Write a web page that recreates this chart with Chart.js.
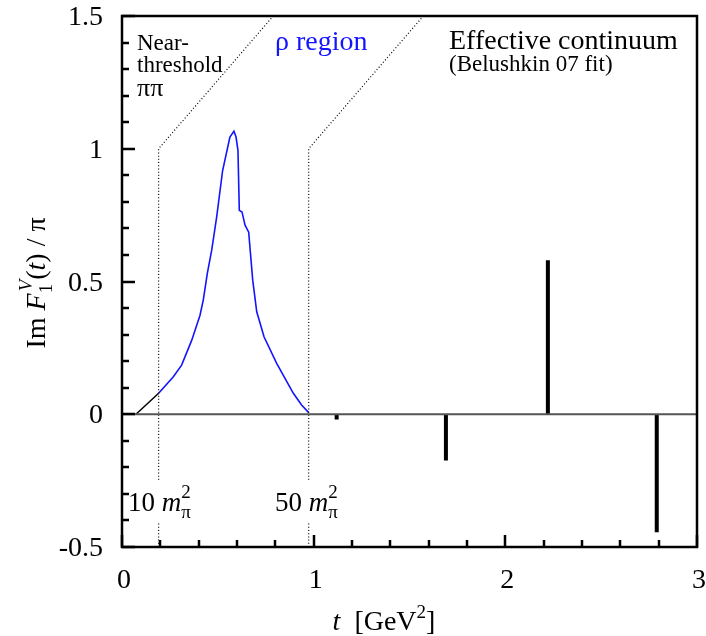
<!DOCTYPE html>
<html>
<head>
<meta charset="utf-8">
<script src="https://cdn.jsdelivr.net/npm/chart.js@4.4.0/dist/chart.umd.min.js"></script>
<style>
  html, body { margin: 0; padding: 0; background: #fff; }
  #wrap { width: 706px; height: 636px; }
</style>
</head>
<body>
<div id="wrap"><canvas id="chart" width="706" height="636"></canvas></div>
<script>
// values: t in GeV^2, Im F1V(t)/pi
const thresholdT = [0.073, 0.191];
const thresholdV = [0.0, 0.079];

const rhoT = [0.191, 0.268, 0.311, 0.364, 0.407, 0.424, 0.445, 0.468, 0.494, 0.525, 0.563, 0.584, 0.595,
              0.605, 0.612, 0.626, 0.642, 0.661, 0.682, 0.703, 0.741, 0.807, 0.894, 0.937, 0.974];
const rhoV = [0.079, 0.141, 0.185, 0.279, 0.373, 0.430, 0.530, 0.618, 0.743, 0.918, 1.044, 1.066, 1.044,
              0.994, 0.768, 0.762, 0.712, 0.686, 0.505, 0.386, 0.292, 0.192, 0.079, 0.035, 0.006];

// effective continuum poles (delta functions)
const contT = [1.12, 1.69, 2.222, 2.79];
const contV = [-0.02, -0.174, 0.58, -0.444];

// region boundaries: 10 m_pi^2 and 50 m_pi^2, dotted up to 1 then slanted to the top
const boundT    = [0.191, 0.974];
const boundTopT = [0.789, 1.572];
const boundKnee = 1.0;
const labelGap  = [-0.409, -0.247];   // dotted line is broken around the m_pi^2 labels

const xTickVals   = [0, 1, 2, 3];
const xTickLabels = ['0', '1', '2', '3'];
const yTickVals   = [-0.5, 0, 0.5, 1, 1.5];
const yTickLabels = ['-0.5', '0', '0.5', '1', '1.5'];

const SERIF = '"Liberation Serif", "DejaVu Serif", serif';
const BLUE = '#1414ff';

const pts = (xs, ys) => xs.map((x, i) => ({ x, y: ys[i] }));

const datasets = [];

// zero line
datasets.push({ data: [{ x: 0, y: 0 }, { x: 3, y: 0 }], borderColor: '#555', borderWidth: 2 });

// dotted region boundaries
boundT.forEach((bt, i) => {
  datasets.push({
    data: [
      { x: bt, y: -0.5 }, { x: bt, y: labelGap[0] }, { x: bt, y: null },
      { x: bt, y: labelGap[1] }, { x: bt, y: boundKnee }, { x: boundTopT[i], y: 1.5 }
    ],
    borderColor: '#000', borderWidth: 1.2, borderDash: [1, 2.2], spanGaps: false
  });
});

// near-threshold piece
datasets.push({ data: pts(thresholdT, thresholdV), borderColor: '#000', borderWidth: 1.5 });

// rho region
datasets.push({ data: pts(rhoT, rhoV), borderColor: BLUE, borderWidth: 1.6 });

// continuum spikes
contT.forEach((t, i) => {
  datasets.push({ data: [{ x: t, y: 0 }, { x: t, y: contV[i] }], borderColor: '#000', borderWidth: 4, borderCapStyle: 'butt' });
});

datasets.forEach(d => { d.showLine = true; d.pointRadius = 0; d.fill = false; d.tension = 0; });

// draw a run of text pieces; a piece can carry stacked sub/sup
function richWidth(ctx, parts) {
  let w = 0;
  parts.forEach(p => {
    if (p.sub !== undefined || p.sup !== undefined) {
      ctx.font = `${p.style || ''} ${p.size}px ${SERIF}`;
      const a = p.sub ? ctx.measureText(p.sub).width + (p.subDx || 0) : 0;
      ctx.font = `${p.supStyle || p.style || ''} ${p.size}px ${SERIF}`;
      const b = p.sup ? ctx.measureText(p.sup).width + (p.supDx || 0) : 0;
      w += Math.max(a, b);
    } else {
      ctx.font = `${p.style || ''} ${p.size}px ${SERIF}`;
      w += ctx.measureText(p.t).width;
    }
  });
  return w;
}
function drawRich(ctx, parts, x, y) {
  let cx = x;
  parts.forEach(p => {
    if (p.sub !== undefined || p.sup !== undefined) {
      let w = 0;
      if (p.sub) {
        ctx.font = `${p.style || ''} ${p.size}px ${SERIF}`;
        ctx.fillText(p.sub, cx + (p.subDx || 0), y + p.subDy);
        w = Math.max(w, ctx.measureText(p.sub).width + (p.subDx || 0));
      }
      if (p.sup) {
        ctx.font = `${p.supStyle || p.style || ''} ${p.size}px ${SERIF}`;
        ctx.fillText(p.sup, cx + (p.supDx || 0), y + p.supDy);
        w = Math.max(w, ctx.measureText(p.sup).width + (p.supDx || 0));
      }
      cx += w;
    } else {
      ctx.font = `${p.style || ''} ${p.size}px ${SERIF}`;
      ctx.fillText(p.t, cx, y);
      cx += ctx.measureText(p.t).width;
    }
  });
}

const framePlugin = {
  id: 'frame',
  afterDatasetsDraw(chart) {
    const { ctx, chartArea: a, scales } = chart;
    const xs = scales.x, ys = scales.y;
    ctx.save();
    ctx.strokeStyle = '#000';
    // inner ticks, left and bottom only
    ctx.lineWidth = 2.5;
    ctx.beginPath();
    for (let k = 0; k <= 20; k++) {
      const v = -0.5 + k * 0.1;
      const py = Math.round(ys.getPixelForValue(v));
      const len = (k % 5 === 0) ? 13 : 7;
      ctx.moveTo(a.left, py); ctx.lineTo(a.left + len, py);
    }
    for (let k = 0; k <= 15; k++) {
      const v = k * 0.2;
      const px = Math.round(xs.getPixelForValue(v));
      const len = (k % 5 === 0) ? 12 : 7;
      ctx.moveTo(px, a.bottom); ctx.lineTo(px, a.bottom - len);
    }
    ctx.stroke();
    ctx.strokeRect(a.left, a.top, a.right - a.left, a.bottom - a.top);

    // tick labels
    ctx.fillStyle = '#000';
    ctx.textBaseline = 'alphabetic';
    ctx.font = `28px ${SERIF}`;
    ctx.textAlign = 'right';
    yTickVals.forEach((v, i) => ctx.fillText(yTickLabels[i], a.left - 19, ys.getPixelForValue(v) + 9));
    ctx.textAlign = 'center';
    xTickVals.forEach((v, i) => ctx.fillText(xTickLabels[i], xs.getPixelForValue(v) + 2, a.bottom + 41));

    // annotations
    ctx.textAlign = 'left';
    ctx.font = `23px ${SERIF}`;
    ctx.fillText('Near-', 137, 50);
    ctx.fillText('threshold', 137, 72);
    ctx.font = `26px ${SERIF}`;
    ctx.fillText('\u03c0\u03c0', 137, 96);

    ctx.fillStyle = BLUE;
    ctx.font = `28px ${SERIF}`;
    ctx.fillText('\u03c1 region', 275, 50);

    ctx.fillStyle = '#000';
    ctx.font = `28px ${SERIF}`;
    ctx.fillText('Effective continuum', 449, 49);
    ctx.font = `23px ${SERIF}`;
    ctx.fillText('(Belushkin 07 fit)', 449, 71);

    const mpi = n => [
      { t: n + ' ', size: 27 },
      { t: 'm', size: 27, style: 'italic' },
      { sub: '\u03c0', sup: '2', size: 19, subDy: 7, supDy: -13, supStyle: 'normal' }
    ];
    drawRich(ctx, mpi('10'), 128, 511);
    drawRich(ctx, mpi('50'), 275, 511);

    // x title
    const xt = [
      { t: 't', size: 28, style: 'italic' },
      { t: '  [GeV', size: 28 },
      { sub: '', sup: '2', size: 19, supDy: -12, supStyle: 'normal' },
      { t: ']', size: 28 }
    ];
    drawRich(ctx, xt, 384 - richWidth(ctx, xt) / 2, 630);

    // y title, rotated
    const yt = [
      { t: 'Im ', size: 28 },
      { t: 'F', size: 28, style: 'italic' },
      { sub: '1', sup: 'V', size: 19, subDy: 7, supDy: -13, subDx: 0, supDx: 2, supStyle: 'italic', style: 'normal' },
      { t: '(', size: 28 },
      { t: 't', size: 28, style: 'italic' },
      { t: ') / \u03c0', size: 28 }
    ];
    ctx.translate(45, 283);
    ctx.rotate(-Math.PI / 2);
    drawRich(ctx, yt, -richWidth(ctx, yt) / 2, 0);
    ctx.restore();
  }
};

new Chart(document.getElementById('chart'), {
  type: 'scatter',
  data: { datasets },
  options: {
    responsive: false,
    animation: false,
    layout: { padding: { top: 16, right: 9, left: 0, bottom: 0 } },
    plugins: { legend: { display: false }, tooltip: { enabled: false } },
    scales: {
      x: {
        type: 'linear', min: 0, max: 3, offset: false,
        grid: { display: false, drawTicks: false },
        border: { display: false },
        ticks: { display: false },
        afterFit: s => { s.height = 89; }
      },
      y: {
        type: 'linear', min: -0.5, max: 1.5,
        grid: { display: false, drawTicks: false },
        border: { display: false },
        ticks: { display: false },
        afterFit: s => { s.width = 122; }
      }
    }
  },
  plugins: [framePlugin]
});
</script>
</body>
</html>
